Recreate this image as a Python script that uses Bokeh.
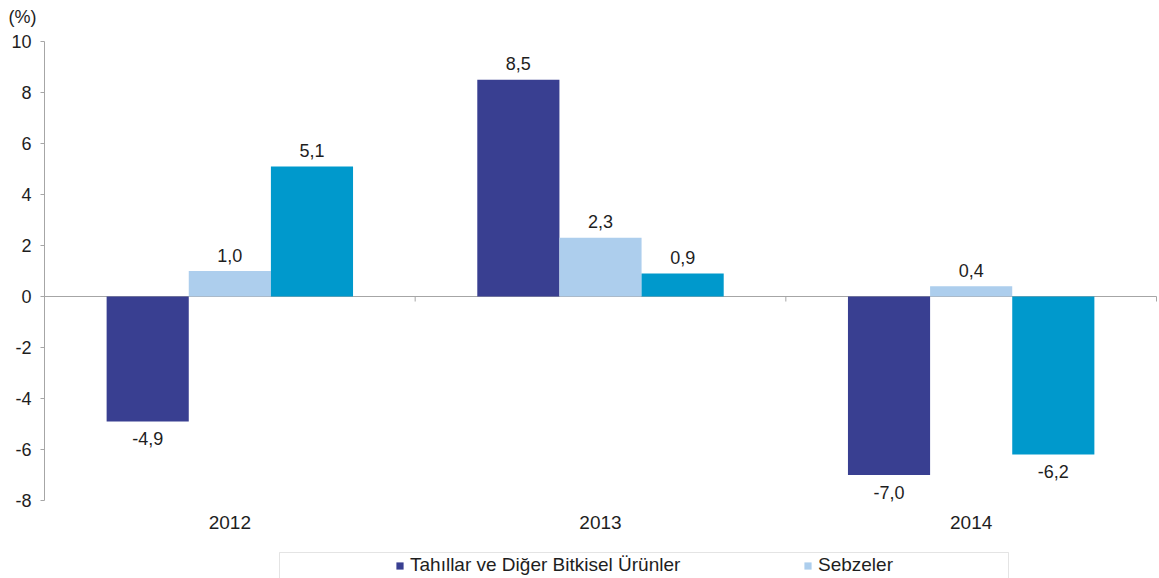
import math
from bokeh.plotting import figure
from bokeh.models import (Range1d, FixedTicker, LinearAxis, Legend, LegendItem,
                          BoxAnnotation, ColumnDataSource)
from bokeh.core.properties import value
from bokeh.embed import file_html
from bokeh.resources import INLINE

# ---- data ----
categories = ["2012", "2013", "2014"]
series_names = ["Tahıllar ve Diğer Bitkisel Ürünler", "Sebzeler"]
tahillar = [-4.9, 8.5, -7.0]
sebzeler = [1.0, 2.3, 0.4]
ucuncu_seri = [5.1, 0.9, -6.2]
y_ticks = [-8, -6, -4, -2, 0, 2, 4, 6, 8, 10]

colors = ["#393F91", "#ADCEED", "#0099CC"]
FONT = "Liberation Sans"
AXIS_GRAY = "#A6A6A6"
TEXT = "#1e1e1e"

# ---- layout (pixels) ----
W, H = 1159, 578
PX_LEFT, PX_RIGHT = 44, 1156      # plot area left/right
PX_TOP, PX_BOTTOM = 41, 500       # y = max tick / min tick
n = len(categories)
ymin, ymax = y_ticks[0], y_ticks[-1]
ux = (PX_RIGHT - PX_LEFT) / n
uy = (PX_BOTTOM - PX_TOP) / (ymax - ymin)

def px_x(px):
    return (px - PX_LEFT) / ux

def px_y(py):
    return ymax - (py - PX_TOP) / uy

p = figure(width=W, height=H,
           x_range=Range1d(px_x(0), px_x(W)), y_range=Range1d(px_y(H), px_y(0)),
           output_backend="svg", toolbar_location=None,
           x_axis_location=None, y_axis_location=None,
           min_border=0, min_border_left=0, min_border_right=0,
           min_border_top=0, min_border_bottom=0)
p.outline_line_color = None
p.grid.grid_line_color = None
p.background_fill_color = "white"

# y axis drawn at x = 0 (plot area left edge)
ya = LinearAxis(fixed_location=0, bounds=(ymin, ymax), ticker=FixedTicker(ticks=y_ticks),
                major_label_overrides={t: str(t) for t in y_ticks},
                axis_line_color=AXIS_GRAY, major_tick_line_color=AXIS_GRAY,
                major_tick_out=4, major_tick_in=0, minor_tick_line_color=None,
                major_label_text_font=FONT, major_label_text_font_size="18px",
                major_label_text_color=TEXT, major_label_standoff=9)
p.add_layout(ya, "left")

# zero line with category boundary ticks
boundaries = list(range(n + 1))
p.segment(x0=[boundaries[0]], y0=[0], x1=[boundaries[-1]], y1=[0],
          line_color=AXIS_GRAY, line_width=1, level="underlay")
p.ray(x=boundaries[1:], y=[0] * n, length=5, length_units="screen",
      angle=-math.pi / 2, line_color=AXIS_GRAY, line_width=1)

# bars
bw = 0.2216
renderers = []
pos_x, pos_y, pos_t = [], [], []
neg_x, neg_y, neg_t = [], [], []
for k, (vals, col) in enumerate(zip([tahillar, sebzeler, ucuncu_seri], colors)):
    xs = [i + 0.5 + (k - 1) * bw for i in range(n)]
    src = ColumnDataSource(dict(x=xs, top=vals))
    r = p.vbar(x="x", top="top", bottom=0, width=bw, source=src,
               fill_color=col, line_color=None)
    renderers.append(r)
    for xv, v in zip(xs, vals):
        lab = f"{v:.1f}".replace(".", ",")
        if v >= 0:
            pos_x.append(xv); pos_y.append(v); pos_t.append(lab)
        else:
            neg_x.append(xv); neg_y.append(v); neg_t.append(lab)

p.text(x=pos_x, y=pos_y, text=pos_t, text_align="center", text_baseline="middle",
       y_offset=-16, text_font=value(FONT), text_font_size="18px", text_color=TEXT)
p.text(x=neg_x, y=neg_y, text=neg_t, text_align="center", text_baseline="middle",
       y_offset=17, text_font=value(FONT), text_font_size="18px", text_color=TEXT)

# category labels under the plot area
centers = [i + 0.5 for i in range(n)]
p.text(x=centers, y=[ymin] * n, text=categories, text_align="center",
       text_baseline="middle", y_offset=22, text_font=value(FONT),
       text_font_size="19px", text_color=TEXT)

# (%) unit label
p.text(x=[0], y=[ymax], text=["(%)"], text_align="left", text_baseline="middle",
       x_offset=-36, y_offset=-25, text_font=value(FONT), text_font_size="18px",
       text_color=TEXT)

# legend box + legend
p.add_layout(BoxAnnotation(left=px_x(279), right=px_x(1008), top=px_y(552), bottom=px_y(H + 20),
                           fill_alpha=0, line_color=AXIS_GRAY, line_width=1))
legend = Legend(items=[LegendItem(label=series_names[0], renderers=[renderers[0]]),
                       LegendItem(label=series_names[1], renderers=[renderers[1]])],
                orientation="horizontal", location=(395, 2),
                glyph_width=9, glyph_height=9, label_standoff=6, spacing=114,
                label_width=279, label_height=21, padding=0, margin=0,
                border_line_color=None, background_fill_alpha=0, label_text_font=FONT,
                label_text_font_size="19px", label_text_color=TEXT)
p.add_layout(legend)

open("out.html", "w").write(file_html(p, INLINE))
